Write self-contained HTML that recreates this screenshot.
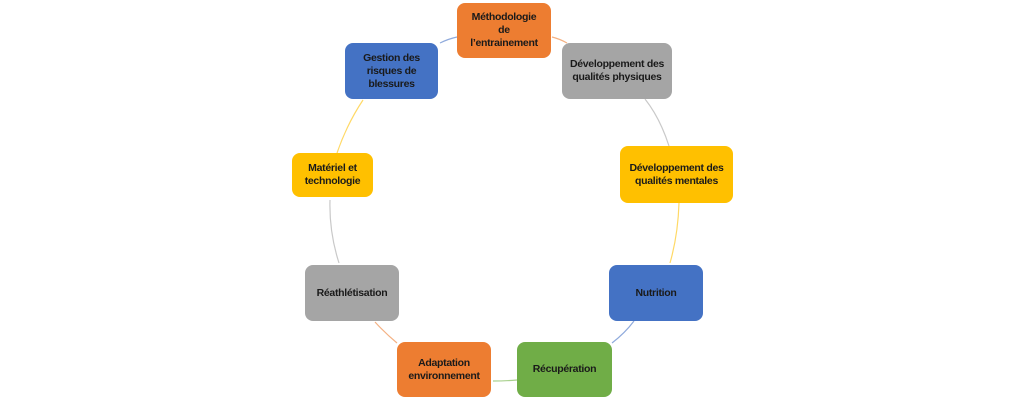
<!DOCTYPE html>
<html><head><meta charset="utf-8"><style>
body{margin:0;width:1024px;height:400px;background:#fff;position:relative;overflow:hidden;font-family:"Liberation Sans",sans-serif}
.b{position:absolute;border-radius:8px;display:flex;align-items:center;justify-content:center;text-align:center;font-weight:bold;font-size:10.5px;line-height:13px;color:#1a1a1a;box-sizing:border-box;letter-spacing:-0.3px}
.o{background:#ed7d31}.g{background:#a5a5a5}.y{background:#ffc000}.bl{background:#4472c4}.gr{background:#70ad47}
svg{position:absolute;left:0;top:0}
</style></head><body>
<svg width="1024" height="400" fill="none" stroke-width="1.2">
<path d="M440 43 Q448 39 457 37" stroke="#8faadc"/>
<path d="M552 37 Q560 39 567 43" stroke="#f4b183"/>
<path d="M645 99 Q660 118 669 146" stroke="#c9c9c9"/>
<path d="M679 203 Q678 235 670 263" stroke="#ffd966"/>
<path d="M634 321 Q625 333 612 343" stroke="#8faadc"/>
<path d="M517 380 Q505 381 493 381" stroke="#a9d18e"/>
<path d="M397 343 Q385 333 375 322" stroke="#f4b183"/>
<path d="M339 263 Q329 232 330 200" stroke="#c9c9c9"/>
<path d="M337 153 Q347 124 363 100" stroke="#ffd966"/>
</svg>
<div class="b o" style="left:457px;top:3px;width:94px;height:55px">Méthodologie<br>de<br>l’entrainement</div>
<div class="b bl" style="left:345px;top:43px;width:93px;height:56px">Gestion des<br>risques de<br>blessures</div>
<div class="b g" style="left:562px;top:43px;width:110px;height:56px">Développement des<br>qualités physiques</div>
<div class="b y" style="left:292px;top:153px;width:81px;height:44px">Matériel et<br>technologie</div>
<div class="b y" style="left:620px;top:146px;width:113px;height:57px">Développement des<br>qualités mentales</div>
<div class="b g" style="left:305px;top:265px;width:94px;height:56px">Réathlétisation</div>
<div class="b bl" style="left:609px;top:265px;width:94px;height:56px">Nutrition</div>
<div class="b o" style="left:397px;top:342px;width:94px;height:55px">Adaptation<br>environnement</div>
<div class="b gr" style="left:517px;top:342px;width:95px;height:55px">Récupération</div>
</body></html>
